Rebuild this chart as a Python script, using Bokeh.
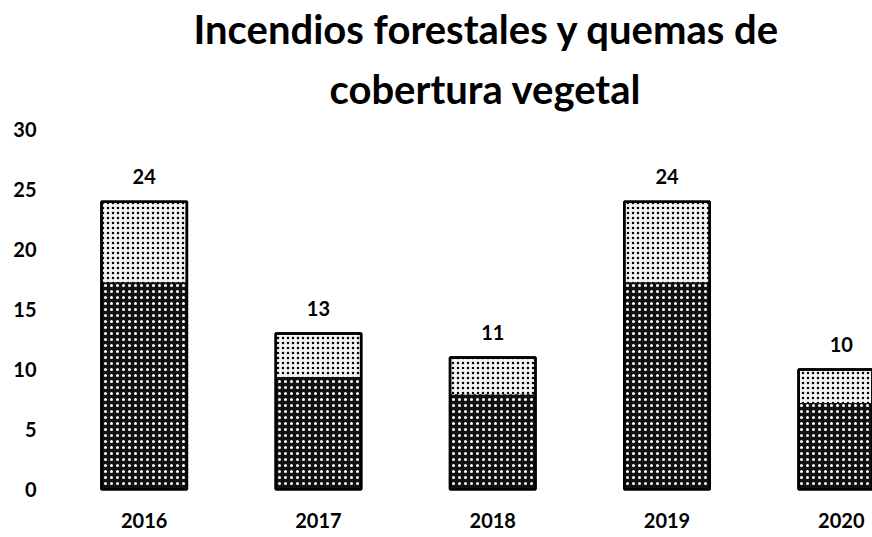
from bokeh.plotting import figure
from bokeh.models import Range1d, FixedTicker, ColumnDataSource, Title
from bokeh.core.properties import value
from bokeh.embed import file_html
from bokeh.resources import INLINE

years = [2016, 2017, 2018, 2019, 2020]
counts = [24, 13, 11, 24, 10]
y_ticks = [0, 5, 10, 15, 20, 25, 30]
title_1 = "Incendios forestales y quemas de"
title_2 = "cobertura vegetal"

FONT = "Lato"
dark_share = 0.72  # texture: darker lower part of each bar

src = ColumnDataSource(dict(
    x=years, top=counts,
    dark=[c * dark_share for c in counts],
    lbl=[str(c) for c in counts],
))

p = figure(width=872, height=537, output_backend="svg", toolbar_location=None,
           x_range=Range1d(2015.5026, 2020.179), y_range=Range1d(-0.275, 30.78),
           min_border_left=57, min_border_right=0, min_border_bottom=45,
           min_border_top=120)

p.title.text = title_1
p.title.text_font = FONT
p.title.text_font_size = "40px"
p.title.text_font_style = "bold"
p.title.align = "left"
p.title.offset = 136
p.title.standoff = 3
p.title.text_color = "#000000"
t2 = Title(text=title_2, text_font=FONT, text_font_size="40px",
           text_font_style="bold", align="left", offset=272, standoff=16,
           text_color="#000000")
p.add_layout(t2, "above")

# light upper part
p.vbar(x="x", top="top", bottom=0, width=0.49, source=src,
       fill_color="#f4f4f4", line_color="#000000", line_width=2.5,
       hatch_pattern="dot", hatch_color="#000000", hatch_scale=5, hatch_weight=1.2)
# dark lower part
p.vbar(x="x", top="dark", bottom=0, width=0.49, source=src,
       fill_color="#111111", line_color=None,
       hatch_pattern="dot", hatch_color="#ffffff", hatch_scale=6, hatch_weight=1.0)
p.vbar(x="x", top="top", bottom=0, width=0.49, source=src,
       fill_color=None, line_color="#000000", line_width=2.5)

p.text(x="x", y="top", text="lbl", source=src, text_align="center",
       text_baseline="middle", y_offset=-25, text_font=value(FONT),
       text_font_size="20px", text_font_style="bold", text_color="#000000")

p.xaxis.ticker = FixedTicker(ticks=years)
p.yaxis.ticker = FixedTicker(ticks=y_ticks)
for ax in (p.xaxis[0], p.yaxis[0]):
    ax.axis_line_color = None
    ax.major_tick_line_color = None
    ax.minor_tick_line_color = None
    ax.major_tick_out = 0
    ax.minor_tick_out = 0
    ax.major_label_text_font = FONT
    ax.major_label_text_font_style = "bold"
    ax.major_label_text_color = "#000000"
    ax.major_label_text_font_size = "20px"
p.yaxis.major_label_standoff = 21
p.xaxis.major_label_standoff = 20
p.xgrid.visible = False
p.ygrid.visible = False
p.outline_line_color = None
p.background_fill_color = "#ffffff"
p.border_fill_color = "#ffffff"

open("out.html", "w").write(file_html(p, INLINE))
